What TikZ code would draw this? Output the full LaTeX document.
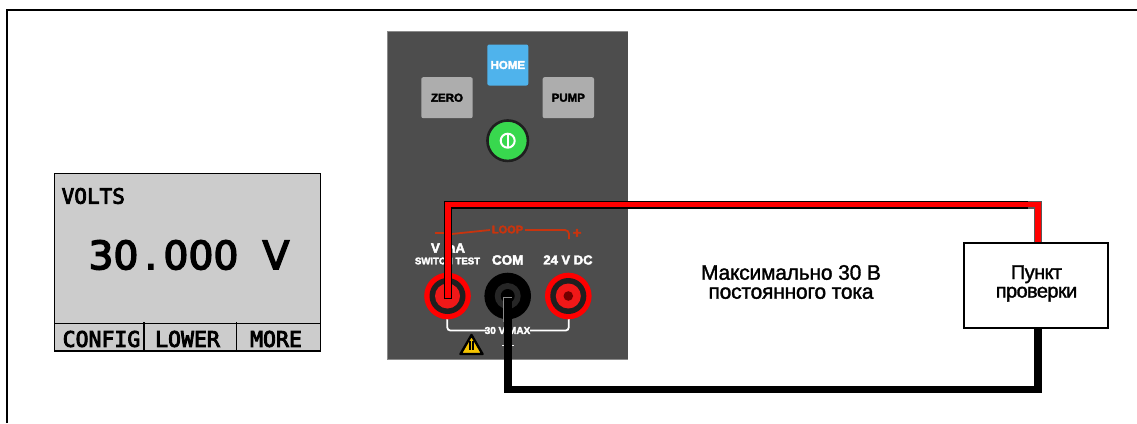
\documentclass[tikz,border=0pt]{standalone}
\usepackage{fontspec}
\setmainfont{Liberation Sans}
\newfontfamily\lcdfont[FakeBold=4]{DejaVu Sans Mono}
\newfontfamily\lcdnum[FakeBold=4]{DejaVu Sans}
\newfontfamily\heavyfont[FakeBold=3]{Liberation Sans Bold}
\newfontfamily\densefont[FakeBold=1.5,LetterSpace=-3]{Liberation Sans}
\newfontfamily\notefont[FakeBold=1.5,LetterSpace=-1]{Liberation Sans}
\newcommand{\lcdcell}[1]{\makebox[25pt]{#1}}
\definecolor{panel}{HTML}{4D4D4D}
\definecolor{panelrim}{HTML}{8A8A8A}
\definecolor{btngray}{HTML}{ADADAD}
\definecolor{btnblue}{HTML}{4FB3EC}
\definecolor{btngreen}{HTML}{38D84E}
\definecolor{lcdgray}{HTML}{CCCCCC}
\definecolor{wirered}{HTML}{FF0000}
\definecolor{looplabel}{HTML}{C8340E}
\definecolor{warnyellow}{HTML}{F5C400}
\definecolor{jackred}{HTML}{F01818}
\tikzset{
  x=1pt,y=-1pt,
  btnbox/.style={rounded corners=2pt,minimum width=#1,minimum height=41pt,inner sep=0pt,font=\heavyfont\fontsize{11.5}{11.5}\selectfont},
  lcdbox/.style={draw=black,line width=1.4pt,fill=lcdgray,inner sep=0pt},
  lcdtext/.style={font=\lcdfont\fontsize{21.5}{21.5}\selectfont,inner sep=0pt,text=black},
  whitelabel/.style={text=white,inner sep=0pt},
  redouter/.style={draw=black,line width=8pt,line join=miter},
  redrim/.style={draw=black!65,line width=8pt,line join=miter},
  redcore/.style={draw=wirered,line width=5.4pt,line join=miter},
  blackwire/.style={draw=black,line width=7.4pt,line join=miter},
  loopline/.style={draw=looplabel,line width=1.8pt},
  maxline/.style={draw=white,line width=1.8pt},
  bodytext/.style={inner sep=0pt,align=center}
}
\begin{document}
\begin{tikzpicture}
\useasboundingbox (0,0) rectangle (1137,423);
% frame
\draw[line width=1.5pt] (7,423) -- (7,10) -- (1137,10);
% LCD
\node[lcdbox,minimum width=266pt,minimum height=177.5pt] (lcd) at (187.7,262.2) {};
\draw[line width=1.4pt] (54.5,323.6) -- (321,323.6);
\draw[line width=1.4pt] (144,322) -- (144,351);
\draw[line width=1.4pt] (236.7,322) -- (236.7,351);
\node[lcdtext,anchor=west,font=\lcdfont\fontsize{21}{21}\selectfont] (volts) at (61.5,196) {VOLTS};
\node[lcdtext,font=\lcdnum\fontsize{39}{39}\selectfont] (reading) at (188.5,255) {\lcdcell{3}\lcdcell{0}\lcdcell{.}\lcdcell{0}\lcdcell{0}\lcdcell{0}\lcdcell{ }\lcdcell{V}};
\node[lcdtext] (f1) at (101.5,339) {CONFIG};
\node[lcdtext] (f2) at (187.5,339) {LOWER};
\node[lcdtext] (f3) at (276,339) {MORE};
% panel
\fill[panelrim] (387.3,31) rectangle (628,359.5);
\fill[panel] (388,31.8) rectangle (628,358.6);
\node[btnbox=41pt,fill=btnblue,text=white] (home) at (507.8,65) {HOME};
\node[btnbox=51.4pt,fill=btngray,text=black] (zero) at (447,97.7) {ZERO};
\node[btnbox=51.4pt,fill=btngray,text=black] (pump) at (568.3,97.7) {PUMP};
\node[circle,draw=black!88,line width=2.6pt,fill=btngreen,minimum size=40.5pt,inner sep=0pt] (power) at (507.7,140.7) {};
\draw[white,line width=2pt] (power.center) circle (7pt);
\draw[white,line width=2pt] (507.7,134.7) -- (507.7,146.7);
% loop
\draw[loopline] (435,233.3) -- (443.5,233.3);
\draw[loopline] (447.5,238) arc[start angle=180,end angle=270,radius=4] -- (490,230);
\draw[loopline] (525,230) -- (565,230) arc[start angle=-90,end angle=0,radius=4] -- (569,239);
\node[text=looplabel,inner sep=0pt,font=\heavyfont\fontsize{11}{11}\selectfont] (loop) at (507.5,229.5) {LOOP};
\node[text=looplabel,inner sep=0pt,font=\heavyfont\fontsize{15}{15}\selectfont] (plus) at (577,233.5) {+};
% labels
\node[whitelabel,font=\heavyfont\fontsize{13.3}{13.3}\selectfont] (vma) at (448,248) {V mA};
\node[whitelabel,font=\heavyfont\fontsize{9.6}{9.6}\selectfont] (sw) at (447.5,261) {SWITCH TEST};
\node[whitelabel,font=\heavyfont\fontsize{13.5}{13.5}\selectfont] (com) at (507.7,260) {COM};
\node[whitelabel,font=\heavyfont\fontsize{13}{13}\selectfont] (dc) at (568,260) {24 V DC};
% max bracket
\draw[maxline,rounded corners=3pt] (447.3,318) -- (447.3,330.5) -- (486,330.5);
\draw[maxline,rounded corners=3pt] (568.7,318) -- (568.7,330.5) -- (530,330.5);
\node[whitelabel,font=\heavyfont\fontsize{10}{10}\selectfont] (max) at (507.5,330.5) {30 V MAX};
\draw[white,line width=.7pt] (502,345.5) -- (514,345.5);
% jacks
\foreach \cx in {447.5,568.3}{
  \fill[wirered] (\cx,296) circle (23.3pt);
  \fill[black!88] (\cx,296) circle (18pt);
  \fill[jackred] (\cx,296) circle (12.5pt);
}
\fill[black!55!red] (568.3,296) circle (4.8pt);
\fill[black] (507.7,296) circle (23.3pt);
\fill[black!85!white] (507.7,296) circle (13pt);
\fill[black] (507.7,296) circle (7pt);
% warning
\draw[black,fill=warnyellow,line width=2.4pt,line join=round] (460.5,354) -- (471.5,335) -- (482.5,354) -- cycle;
\fill[black] (469.4,340.5) rectangle (470.8,350);
\fill[black] (472.2,340.5) rectangle (473.6,350);
% test point
\node[draw=black,line width=2pt,fill=white,minimum width=143.5pt,minimum height=85.5pt,inner sep=0pt] (tp) at (1036,285.5) {};
\node[bodytext,font=\densefont\fontsize{20}{18.5}\selectfont] (tptext) at (1036.5,283.5) {Пункт\\проверки};
\node[bodytext,font=\notefont\fontsize{21}{19}\selectfont] (note) at (791,282) {Максимально 30 В\\постоянного тока};
% wires
\coordinate (redstart) at (447.8,299);
\coordinate (redcorner) at (447.8,204.6);
\coordinate (redturn) at (1038,204.6);
\coordinate (rimstart) at (1028,204.6);
\coordinate (blackstart) at (507.8,298);
\coordinate (blackcap) at (507.8,322);
\coordinate (blackcorner) at (507.8,389.5);
\coordinate (blackturn) at (1038,389.5);
\draw[redouter] (redstart) -- (redcorner) -- (rimstart);
\draw[redrim] (rimstart) -- (redturn) -- (redturn |- tp.north);
\draw[redcore] (447.8,298) -- (redcorner) -- (redturn) -- (redturn |- tp.north);
\draw[draw=panelrim,line width=9pt] (507.8,297) -- (blackcap);
\draw[blackwire] (blackstart) -- (blackcorner) -- (blackturn) -- (blackturn |- tp.south);
\end{tikzpicture}
\end{document}
